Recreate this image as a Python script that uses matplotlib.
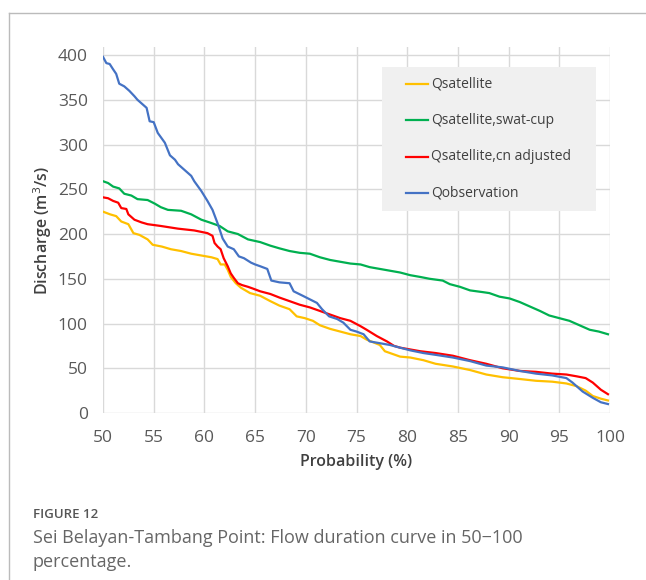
import numpy as np
import matplotlib.pyplot as plt
from matplotlib.lines import Line2D
from matplotlib.patches import Rectangle

# Flow duration curve, Sei Belayan-Tambang point (50-100 %)
p_obs = [50, 50.33, 50.66, 51, 51.3, 51.6, 52.1, 52.6, 53.1, 53.4, 53.9, 54.3, 54.6, 55.0,
         55.4, 56.1, 56.6, 57.1, 57.4, 58.0, 58.7, 59.0, 59.7, 60.3, 60.8, 61.3, 61.8, 62.3,
         62.9, 63.4, 63.9, 64.6, 65.0, 65.5, 66.2, 66.6, 67.4, 68.4, 68.8, 69.7, 70.4, 71.1,
         71.6, 72.3, 73.1, 73.7, 74.4, 75.0, 75.7, 76.3, 77.3, 78.3, 79.3, 80.3, 81.6, 82.8,
         84.5, 86.2, 87.8, 89.4, 91.1, 92.7, 94.3, 95.7, 96.3, 97.3, 98.3, 99.1, 99.8]
q_obs = [398, 391, 390, 384, 379, 368, 365, 360, 354, 350, 345, 341, 326, 325,
         313, 302, 288, 283, 278, 272, 265, 259, 248, 237, 227, 212, 195, 186,
         183, 175, 173, 168, 166, 164, 161, 148, 146, 145, 136, 131, 127, 123,
         116, 108, 105, 101, 93, 91, 88, 80, 78, 76, 73, 70, 67, 65,
         62, 58, 53, 51, 47, 44, 42, 39, 34, 24, 17, 12, 10]

p_swat = [50, 50.5, 51, 51.6, 52.1, 52.8, 53.4, 54.4, 55.1, 55.7, 56.4, 57.7, 58.7, 59.7,
          60.5, 61.5, 62.3, 63.3, 64.3, 65.5, 66.5, 67.4, 68.4, 69.4, 70.4, 71.4, 72.4,
          73.4, 74.4, 75.4, 76.3, 77.3, 78.3, 79.3, 80.3, 81.3, 82.2, 83.5, 84.2, 85.2,
          86.2, 87.5, 88.1, 89.1, 90.1, 91.1, 92.1, 93.1, 94.0, 95.0, 96.0, 97.0, 98.0,
          98.9, 99.8]
q_swat = [259, 257, 253, 251, 245, 243, 239, 238, 234, 230, 227, 226, 222, 216,
          213, 209, 203, 200, 194, 191, 187, 184, 181, 179, 178, 174, 171,
          169, 167, 166, 163, 161, 159, 157, 154, 152, 150, 148, 144, 141,
          137, 135, 134, 130, 128, 124, 119, 114, 109, 106, 103, 98, 93,
          91, 88]

p_cn = [50, 50.5, 51, 51.5, 51.8, 52.3, 52.5, 53.1, 53.8, 54.4, 55.7, 57.4, 59.0, 60.3,
        60.8, 61.0, 61.3, 61.6, 61.9, 62.3, 62.6, 62.9, 63.3, 63.7, 64.3, 64.8, 65.5,
        66.5, 67.4, 68.4, 69.4, 70.4, 71.4, 72.4, 73.4, 74.4, 75.4, 76.0, 77.0, 78.0,
        78.7, 79.3, 80.3, 81.3, 82.8, 84.5, 86.2, 87.8, 89.4, 91.1, 92.7, 94.3, 95.7,
        96.7, 97.6, 98.3, 99.1, 99.8]
q_cn = [241, 240, 237, 235, 229, 228, 222, 216, 213, 211, 209, 206, 204, 201,
        198, 190, 186, 183, 173, 164, 156, 151, 145, 143, 141, 139, 136,
        133, 129, 125, 121, 118, 114, 110, 106, 103, 97, 93, 86, 80,
        75, 73, 71, 69, 67, 64, 59, 55, 50, 47, 46, 44, 43,
        41, 39, 34, 26, 21]

p_sat = [50, 50.7, 51.3, 51.8, 52.5, 53.0, 53.6, 54.4, 54.9, 55.8, 56.7, 57.7, 58.7, 59.7,
         60.7, 61.3, 61.6, 62.0, 62.3, 62.6, 63.1, 63.6, 64.5, 65.5, 66.5, 67.4, 68.4,
         69.1, 69.9, 70.7, 71.4, 72.4, 73.4, 74.4, 75.4, 76.0, 77.3, 77.8, 78.3, 79.3,
         80.3, 81.6, 82.8, 84.5, 86.2, 87.8, 89.4, 91.1, 92.7, 94.3, 95.7, 96.7, 97.6,
         98.3, 99.1, 99.8]
q_sat = [225, 222, 220, 214, 211, 201, 199, 194, 188, 186, 183, 181, 178, 176,
         174, 172, 166, 166, 160, 152, 145, 140, 134, 131, 125, 120, 116,
         108, 106, 103, 98, 94, 91, 88, 86, 82, 76, 69, 67, 63,
         62, 59, 55, 52, 48, 43, 40, 38, 36, 35, 33, 30, 25,
         19, 16, 14]

labels = ['Qsatellite', 'Qsatellite,swat-cup', 'Qsatellite,cn adjusted', 'Qobservation']
colors = ['#FFC000', '#00B050', '#FF0000', '#4472C4']

plt.rcParams['font.family'] = ['Open Sans', 'DejaVu Sans']

W, H = 646, 580
fig = plt.figure(figsize=(W / 100, H / 100), dpi=100)
ax = fig.add_axes([103 / W, 1 - 413 / H, 507 / W, 366 / H])

series = [(p_sat, q_sat), (p_swat, q_swat), (p_cn, q_cn), (p_obs, q_obs)]
for (p, q), c in zip(series, colors):
    ax.plot(p, q, color=c, lw=1.6, solid_joinstyle='round', zorder=3)

ax.set_xlim(50, 100)
ax.set_ylim(0, 409)
ax.set_xticks(np.arange(50, 101, 5))
ax.set_yticks(np.arange(0, 401, 50))
ax.grid(True, color='#D9D9D9', lw=1)
ax.set_axisbelow(True)
for s in ax.spines.values():
    s.set_visible(False)
ax.tick_params(length=0, labelsize=12.5, colors='#595959')
ax.tick_params(axis='y', pad=11)
ax.tick_params(axis='x', pad=12)
ax.set_xlabel('Probability (%)', fontsize=11.5, fontweight='semibold', color='#404040', labelpad=6)
ax.set_ylabel('Discharge (m$^3$/s)', fontsize=11.5, fontweight='semibold', color='#404040', labelpad=3)

# legend drawn as a grey box with entries
fig.add_artist(Rectangle((381.7 / W, 1 - 210.7 / H), 214 / W, 144 / H,
                         transform=fig.transFigure, facecolor='#F0F0F0',
                         edgecolor='none', zorder=4))
for i, (lab, c) in enumerate(zip(labels, colors)):
    yy = 1 - (84.3 + 36.2 * i) / H
    fig.add_artist(Line2D([406 / W, 428.3 / W], [yy, yy], color=c, lw=1.6, zorder=5))
    fig.text(431 / W, yy, lab, fontsize=10, color='#404040', va='center', zorder=5)

# card frame
fig.add_artist(Line2D([9 / W, 1], [1 - 13 / H, 1 - 13 / H], color='#BBBBBB', lw=1))
fig.add_artist(Line2D([9 / W, 9 / W], [0, 1 - 13 / H], color='#BBBBBB', lw=1))

fig.text(33 / W, 1 - 515 / H, 'FIGURE 12', fontsize=9.5, fontweight='semibold',
         color='#555555', va='center')
fig.text(33 / W, 1 - 538 / H, 'Sei Belayan-Tambang Point: Flow duration curve in 50\u2212100',
         fontsize=13, color='#666666', va='center')
fig.text(33 / W, 1 - 562 / H, 'percentage.', fontsize=13, color='#666666', va='center')

fig.savefig('out.png', dpi=100)
